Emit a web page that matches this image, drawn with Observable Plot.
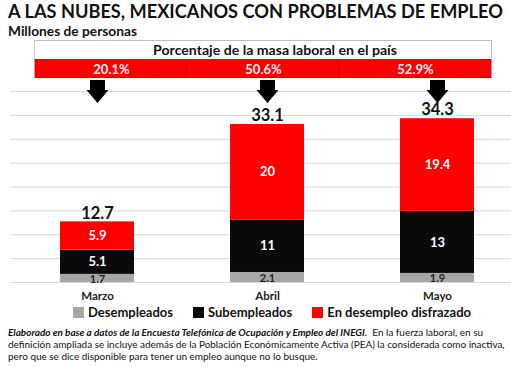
<!DOCTYPE html>
<html><head><meta charset="utf-8">
<script src="https://cdn.jsdelivr.net/npm/d3@7"></script>
<script src="https://cdn.jsdelivr.net/npm/@observablehq/plot@0.6"></script>
<style>
html,body{margin:0;padding:0;background:#fff;}
body{width:511px;height:367px;position:relative;overflow:hidden;font-family:Lato,"Open Sans",sans-serif;color:#111;}
.abs{position:absolute;}
.fit{white-space:nowrap;line-height:1;}
#title{left:8px;top:2px;font-size:18px;font-weight:700;}
#subtitle{left:8px;top:24px;font-size:13.5px;font-weight:700;}
#header{left:34px;top:40px;width:458px;height:19px;box-sizing:border-box;border:1px solid #bfbfbf;border-bottom:none;display:flex;align-items:center;justify-content:center;padding-left:24px;}
#headerText{font-size:12px;font-weight:700;white-space:nowrap;line-height:1;}
#pctRow{left:0;top:59px;}
#main{left:0;top:79px;}
#legend{left:73px;top:305px;display:flex;align-items:center;font-size:13px;font-weight:700;line-height:14px;white-space:nowrap;}
.sw{width:11px;height:11px;display:inline-block;margin-right:4px;}
.item{display:flex;align-items:center;margin-right:20px;}
#caption{left:8px;top:326px;font-size:10.5px;line-height:12px;color:#111;}
#caption div{white-space:nowrap;}
</style></head><body>
<div id="title" class="abs fit">A LAS NUBES, MEXICANOS CON PROBLEMAS DE EMPLEO</div>
<div id="subtitle" class="abs fit">Millones de personas</div>
<div id="header" class="abs"><span id="headerText">Porcentaje de la masa laboral en el país</span></div>
<div id="pctRow" class="abs"></div>
<div id="main" class="abs"></div>
<div id="legend" class="abs"></div>
<div id="caption" class="abs">
<div id="cap1"><b><i>Elaborado en base a datos de la Encuesta Telefónica de Ocupación y Empleo del INEGI.</i></b>&nbsp; En la fuerza laboral, en su</div>
<div id="cap2">definición ampliada se incluye además de la Población Económicamente Activa (PEA) la considerada como inactiva,</div>
<div id="cap3">pero que se dice disponible para tener un empleo aunque no lo busque.</div>
</div>
<script>
const months = ["Marzo", "Abril", "Mayo"];
const seriesNames = ["Desempleados", "Subempleados", "En desempleo disfrazado"];
const desempleados = [1.7, 2.1, 1.9];
const subempleados = [5.1, 11, 13];
const disfrazado = [5.9, 20, 19.4];
const totals = [12.7, 33.1, 34.3];
const pctLaboral = [20.1, 50.6, 52.9];
const gridValues = [0, 5, 10, 15, 20, 25, 30, 35, 40];
const colors = ["#a6a6a6", "#0a0a0a", "#ff0000"];

function fit(el, target) {
  const w = el.getBoundingClientRect().width;
  const fs = parseFloat(getComputedStyle(el).fontSize);
  el.style.fontSize = (fs * target / w) + "px";
}
fit(document.getElementById("title"), 495);
fit(document.getElementById("subtitle"), 129);
fit(document.getElementById("headerText"), 244);
fit(document.getElementById("cap1"), 497);
const capFs = document.getElementById("cap1").style.fontSize;
document.getElementById("cap2").style.fontSize = capFs;
document.getElementById("cap3").style.fontSize = capFs;

const series = [desempleados, subempleados, disfrazado];
const rows = [];
months.forEach((m, i) => seriesNames.forEach((s, j) => rows.push({month: m, type: s, value: series[j][i]})));
const totalRows = months.map((m, i) => ({month: m, total: totals[i]}));
const pctRows = months.map((m, i) => ({month: m, pct: pctLaboral[i]}));

// Percentage row
const pctPlot = Plot.plot({
  width: 511, height: 19, margin: 0,
  style: {fontFamily: "Lato, sans-serif", background: "transparent"},
  x: {domain: months, range: [34, 492], padding: 0, axis: null},
  marks: [
    Plot.cell(pctRows, {x: "month", fill: "#ff0000", stroke: "#c00000", strokeWidth: 0.8}),
    Plot.text(pctRows, {x: "month", text: d => d.pct.toFixed(1) + "%", fill: "#fff0f0", fontSize: 13, fontWeight: "bold", dy: 1})
  ]
});
document.getElementById("pctRow").appendChild(pctPlot);

const arrowSymbol = {
  draw(ctx) {
    ctx.moveTo(-7.5, -11.5); ctx.lineTo(7.5, -11.5); ctx.lineTo(7.5, -1.5); ctx.lineTo(11, -1.5);
    ctx.lineTo(0, 11.5); ctx.lineTo(-11, -1.5); ctx.lineTo(-7.5, -1.5); ctx.closePath();
  }
};

const main = Plot.plot({
  width: 511, height: 226, marginTop: 12, marginBottom: 23, marginLeft: 10, marginRight: 0,
  style: {fontFamily: "Lato, sans-serif", fontSize: "11.5px", fontWeight: "bold", color: "#222", background: "transparent", overflow: "visible"},
  x: {domain: months, range: [11, 522], paddingInner: 0.566, paddingOuter: 0.2815, tickSize: 0, tickPadding: 9, label: null},
  y: {domain: [0, 40], axis: null},
  color: {domain: seriesNames, range: colors},
  marks: [
    Plot.ruleY(gridValues, {stroke: "#d9d9d9", strokeWidth: 1}),
    Plot.barY(rows, {x: "month", y: "value", fill: "type"}),
    Plot.text(rows, Plot.stackY({x: "month", y: "value", z: "type",
      text: d => d.type === seriesNames[0] ? "" : String(d.value),
      fill: "#ffffff", fontSize: 13, fontWeight: "bold"})),
    Plot.text(rows, Plot.stackY({x: "month", y: "value", z: "type",
      text: d => d.type === seriesNames[0] ? String(d.value) : "",
      fill: "#222", fontSize: 11, fontWeight: "bold", dy: 1})),
    Plot.text(totalRows, {x: "month", y: "total", text: d => String(d.total), dy: -8.5, fontSize: 16.5, fontWeight: "bold", fill: "#111"}),
    Plot.dot(months, {x: d => d, frameAnchor: "top", symbol: arrowSymbol, fill: "#000", stroke: "none"})
  ]
});
document.getElementById("main").appendChild(main);

// Legend
const legend = document.getElementById("legend");
seriesNames.forEach((s, i) => {
  const item = document.createElement("div");
  item.className = "item";
  const sw = document.createElement("span");
  sw.className = "sw";
  sw.style.background = colors[i];
  item.appendChild(sw);
  const t = document.createElement("span");
  t.textContent = s;
  item.appendChild(t);
  legend.appendChild(item);
});
</script>
</body></html>
